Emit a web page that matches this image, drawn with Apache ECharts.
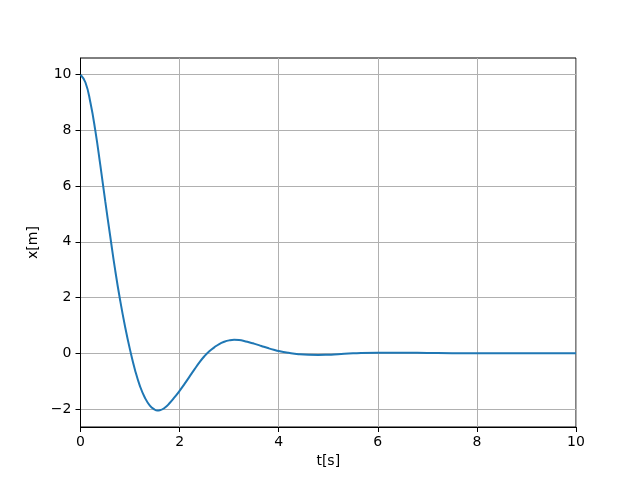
<!DOCTYPE html>
<html>
<head>
<meta charset="utf-8">
<script src="https://cdn.jsdelivr.net/npm/echarts@6/dist/echarts.min.js"></script>
<style>html,body{margin:0;padding:0;background:#fff}#c{width:640px;height:480px}</style>
</head>
<body>
<div id="c"></div>
<script>
const tValues = [0,0.1,0.2,0.3,0.4,0.5,0.6,0.7,0.8,0.9,1.0,1.1,1.2,1.3,1.4,1.5,1.55,1.6,1.7,1.8,1.9,2.0,2.1,2.2,2.3,2.4,2.5,2.6,2.7,2.8,2.9,3.0,3.1,3.2,3.3,3.4,3.5,3.6,3.7,3.8,3.9,4.0,4.2,4.4,4.6,4.8,5.0,5.2,5.5,6.0,6.5,7.0,7.5,8.0,9.0,10.0];
const xValues = [10.0,9.72,9.0,7.98,6.75,5.45,4.2,2.98,1.9,0.95,0.12,-0.6,-1.18,-1.6,-1.88,-2.03,-2.06,-2.05,-1.96,-1.79,-1.58,-1.35,-1.1,-0.84,-0.58,-0.33,-0.11,0.07,0.21,0.33,0.41,0.46,0.48,0.47,0.44,0.395,0.345,0.29,0.23,0.175,0.125,0.08,0.015,-0.035,-0.06,-0.065,-0.055,-0.035,-0.005,0.02,0.02,0.01,0.0,0.0,0.0,0.0];
const yTicks = [-2,0,2,4,6,8,10];
const xLabel = 't[s]';
const yLabel = 'x[m]';

const data = tValues.map((t,i)=>[t,xValues[i]]);
const fmt = v => String(v).replace('-', '\u2212');
const font = 'DejaVu Sans';
const chart = echarts.init(document.getElementById('c'), null, {renderer:'canvas'});
chart.setOption({
  animation:false,
  grid:{left:80.5,right:64,top:58,bottom:53,show:true,borderColor:'#000',borderWidth:1,backgroundColor:'transparent'},
  xAxis:{
    type:'value',min:0,max:10,interval:2,
    name:xLabel,nameLocation:'middle',nameGap:27,
    nameTextStyle:{fontFamily:font,fontSize:14,color:'#000'},
    axisLine:{show:true,onZero:false,lineStyle:{color:'#000',width:1}},
    axisTick:{show:true,inside:false,length:5,lineStyle:{color:'#000',width:1}},
    axisLabel:{margin:8,fontFamily:font,fontSize:14,color:'#000',formatter:fmt},
    splitLine:{show:true,lineStyle:{color:'#b0b0b0',width:1}}
  },
  yAxis:{
    type:'value',min:-2.65,max:10.6,
    name:yLabel,nameLocation:'middle',nameGap:31,
    nameTextStyle:{fontFamily:font,fontSize:14,color:'#000'},
    axisLine:{show:true,onZero:false,lineStyle:{color:'#000',width:1}},
    axisTick:{show:true,inside:false,length:5,customValues:yTicks,lineStyle:{color:'#000',width:1}},
    axisLabel:{margin:9,fontFamily:font,fontSize:14,color:'#000',customValues:yTicks,formatter:fmt},
    splitLine:{show:true,lineStyle:{color:'#b0b0b0',width:1}}
  },
  series:[{
    type:'line',data:data,smooth:true,showSymbol:false,symbol:'none',
    lineStyle:{color:'#1f77b4',width:2},
    clip:true
  }]
});
</script>
</body>
</html>
